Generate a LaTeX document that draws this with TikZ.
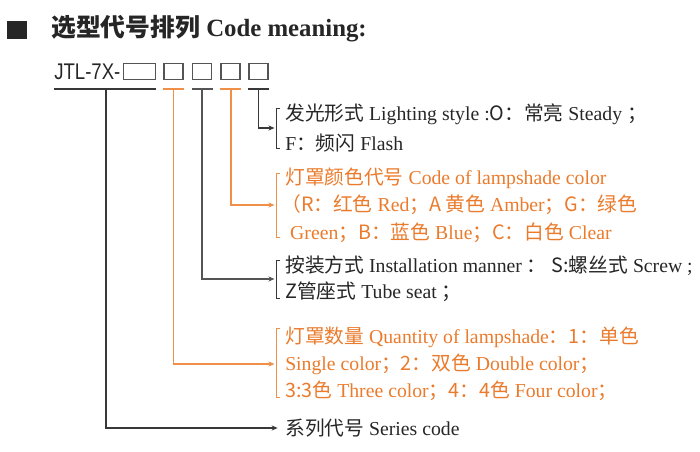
\documentclass[tikz,border=0pt]{standalone}
\usepackage{fontspec}
\setmainfont{Liberation Serif}
\newfontfamily\cjk{Noto Sans CJK SC}
\newfontfamily\latsans{Liberation Sans}
\newcommand\zh[1]{{\cjk #1}}
\usetikzlibrary{arrows.meta}
\definecolor{ink}{HTML}{262626}
\definecolor{lineblk}{HTML}{383838}
\definecolor{linegry}{HTML}{555555}
\definecolor{org}{HTML}{EA7B2C}
\definecolor{orgline}{HTML}{F09048}
\tikzset{
  boxnode/.style={draw=linegry, line width=0.95pt, inner sep=0pt, minimum height=12.4pt},
  conn/.style={line width=0.9pt, -{Stealth[length=4.5pt,width=3.8pt]}},
  barline/.style={line width=1.1pt},
  brk/.style={line width=0.7pt},
  txt/.style={anchor=west, inner sep=0pt, align=left, text=ink},
  otxt/.style={txt, text=org},
}
\begin{document}
\begin{tikzpicture}[x=0.75pt,y=-0.75pt]
\useasboundingbox (0,0) rectangle (700,452);
% title
\node[fill=ink, minimum width=15pt, minimum height=13pt, inner sep=0pt] (sq) at (17,30) {};
\node[anchor=base west, inner sep=0pt, text=ink, font=\fontsize{18.6pt}{20pt}\selectfont\bfseries] (title) at (51,37) {\zh{选型代号排列} Code meaning:};
% code line
\node[anchor=base west, inner sep=0pt, text=ink, font=\fontsize{17pt}{18pt}\selectfont\latsans] (pre) at (54,80) {\scalebox{0.82}[1]{JTL-7X-}};
\node[boxnode, minimum width=24.5pt] (b1) at (139.5,71.5) {};
\node[boxnode, minimum width=14.3pt] (b2) at (173.5,71.5) {};
\node[boxnode, minimum width=14.3pt] (b3) at (202,71.5) {};
\node[boxnode, minimum width=14.3pt] (b4) at (230.5,71.5) {};
\node[boxnode, minimum width=14.3pt] (b5) at (258.5,71.5) {};
% bars
\draw[barline, lineblk] (54,89) -- (156,89);
\draw[barline, orgline] (163,89) -- (184,89);
\draw[barline, linegry] (191.5,89) -- (212.5,89);
\draw[barline, orgline] (220,89) -- (241,89);
\draw[barline, lineblk] (248,89) -- (269,89);
\coordinate (s1) at (106,89);
\coordinate (s2) at (173.5,89);
\coordinate (s3) at (202,89);
\coordinate (s4) at (231,89);
\coordinate (s5) at (258.5,89);
% text groups
\node[txt, font=\fontsize{14.8pt}{22.5pt}\selectfont] (g1) at (285,128) {\zh{发光形式} Lighting style :\zh{O：常亮} Steady \zh{；}\\F\zh{：频闪} Flash};
\node[otxt, font=\fontsize{14.8pt}{20.6pt}\selectfont] (g2) at (285,205) {\zh{灯罩颜色代号} Code of lampshade color\\\hspace*{-3pt}\zh{（R：红色} Red\zh{；A 黄色} Amber\zh{；G：绿色}\\\ Green\zh{；B：蓝色} Blue\zh{；C：白色} Clear};
\node[txt, font=\fontsize{14.8pt}{19.5pt}\selectfont] (g3) at (285,279) {\zh{按装方式} Installation manner \zh{：} \zh{S:螺丝式} Screw ;\\\zh{Z管座式} Tube seat \zh{；}};
\node[otxt, font=\fontsize{14.8pt}{20.3pt}\selectfont] (g4) at (285,364) {\zh{灯罩数量} Quantity of lampshade\zh{：1：单色}\\Single color\zh{；2：双色} Double color\zh{；}\\\zh{3:3色} Three color\zh{；4：4色} Four color\zh{；}};
\node[txt, font=\fontsize{14.8pt}{20pt}\selectfont] (g5) at (285,428) {\zh{系列代号} Series code};
% brackets
\draw[brk, lineblk] (280,108) -- (276,108) -- (276,148) -- (280,148);
\draw[brk, orgline] (280,173) -- (276,173) -- (276,237) -- (280,237);
\draw[brk, lineblk] (280,260) -- (276,260) -- (276,298) -- (280,298);
\draw[brk, orgline] (280,328) -- (276,328) -- (276,397) -- (280,397);
% arrow ends
\coordinate (a1) at ([xshift=-7.9pt]g1.west);
\coordinate (a2) at ([xshift=-7.9pt]g2.west);
\coordinate (a3) at ([xshift=-7.9pt]g3.west);
\coordinate (a4) at ([xshift=-7.9pt]g4.west);
\coordinate (a5) at ([xshift=-5.5pt]g5.west);
% connectors
\draw[conn, lineblk] (s5) |- (a1);
\draw[conn, orgline] (s4) |- (a2);
\draw[conn, linegry] (s3) |- (a3);
\draw[conn, orgline] (s2) |- (a4);
\draw[conn, lineblk] (s1) |- (a5);
\end{tikzpicture}
\end{document}
